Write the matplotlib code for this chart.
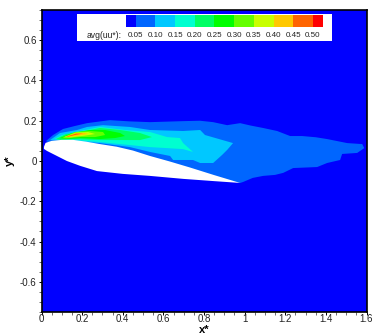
import matplotlib
matplotlib.use('Agg')
import matplotlib.pyplot as plt
from matplotlib.ticker import MultipleLocator

plt.rcParams['font.family'] = ['Liberation Sans', 'DejaVu Sans']

# legend levels
levels = [0.05, 0.10, 0.15, 0.20, 0.25, 0.30, 0.35, 0.40, 0.45, 0.50]
level_colors = ['#0000ff', '#0066ff', '#00c8ff', '#00ffd0', '#00ff64', '#00ff00',
                '#64ff00', '#c8ff00', '#ffc800', '#ff6400', '#ff0000']
x_ticks = [0, 0.2, 0.4, 0.6, 0.8, 1, 1.2, 1.4, 1.6]
x_labels = ['0', '0.2', '0.4', '0.6', '0.8', '1', '1.2', '1.4', '1.6']
y_ticks = [-0.6, -0.4, -0.2, 0, 0.2, 0.4, 0.6]
y_labels = ['-0.6', '-0.4', '-0.2', '0', '0.2', '0.4', '0.6']

# airfoil outline
foil_x = [0.012, 0.02, 0.05, 0.10, 0.155, 0.22, 0.288, 0.37, 0.45, 0.534, 0.63, 0.73, 0.85, 0.978,
          0.85, 0.70, 0.534, 0.40, 0.273, 0.19, 0.125, 0.076, 0.027, 0.012]
foil_y = [0.070, 0.090, 0.100, 0.105, 0.105, 0.096, 0.084, 0.071, 0.052, 0.025, -0.002, -0.032, -0.070, -0.109,
          -0.100, -0.089, -0.074, -0.064, -0.050, -0.024, 0.000, 0.025, 0.050, 0.060]

# contour outlines, outermost first
c05_x = [0.022, 0.057, 0.106, 0.165, 0.224, 0.337, 0.43, 0.534, 0.697, 0.78, 0.845, 0.914, 0.978, 1.03, 1.091,
         1.160, 1.224, 1.283, 1.35, 1.406, 1.505, 1.579, 1.589, 1.554, 1.480, 1.470, 1.406, 1.357,
         1.239, 1.190, 1.150, 1.091, 1.04, 0.993, 0.978, 0.5, 0.1]
c05_y = [0.099, 0.129, 0.159, 0.174, 0.188, 0.203, 0.197, 0.193, 0.198, 0.200, 0.193, 0.178, 0.188, 0.176, 0.164,
         0.149, 0.124, 0.124, 0.118, 0.109, 0.089, 0.084, 0.064, 0.040, 0.035, 0.005, -0.010, -0.030,
         -0.035, -0.059, -0.069, -0.074, -0.084, -0.104, -0.109, 0.0, 0.06]
c10_x = [0.042, 0.091, 0.175, 0.224, 0.303, 0.436, 0.534, 0.697, 0.781, 0.805, 0.943, 0.914,
         0.889, 0.845, 0.781, 0.746, 0.648, 0.633, 0.534, 0.436, 0.288, 0.140]
c10_y = [0.104, 0.139, 0.154, 0.169, 0.178, 0.169, 0.154, 0.149, 0.154, 0.129, 0.089, 0.055,
         0.030, -0.010, -0.010, 0.005, 0.005, 0.025, 0.045, 0.069, 0.089, 0.099]
c15_x = [0.062, 0.101, 0.190, 0.288, 0.411, 0.534, 0.618, 0.682, 0.697, 0.746, 0.697, 0.618,
         0.534, 0.436, 0.288, 0.165, 0.091]
c15_y = [0.109, 0.129, 0.149, 0.169, 0.154, 0.144, 0.119, 0.114, 0.089, 0.045, 0.059, 0.064,
         0.069, 0.079, 0.094, 0.104, 0.104]
c20_x = [0.071, 0.121, 0.214, 0.288, 0.387, 0.485, 0.544, 0.485, 0.387, 0.288, 0.165, 0.101]
c20_y = [0.109, 0.134, 0.149, 0.164, 0.154, 0.139, 0.119, 0.104, 0.104, 0.104, 0.109, 0.104]
c25_x = [0.091, 0.150, 0.239, 0.313, 0.387, 0.411, 0.362, 0.288, 0.190, 0.121]
c25_y = [0.114, 0.139, 0.154, 0.154, 0.139, 0.124, 0.114, 0.109, 0.114, 0.109]
c30_x = [0.101, 0.165, 0.239, 0.303, 0.313, 0.264, 0.190, 0.121]
c30_y = [0.114, 0.144, 0.149, 0.144, 0.129, 0.119, 0.119, 0.112]
c35_x = [0.111, 0.170, 0.229, 0.264, 0.214, 0.140]
c35_y = [0.119, 0.141, 0.144, 0.134, 0.126, 0.117]
c40_x = [0.116, 0.170, 0.214, 0.229, 0.180, 0.131]
c40_y = [0.119, 0.139, 0.139, 0.134, 0.126, 0.119]
c45_x = [0.121, 0.170, 0.204, 0.165, 0.131]
c45_y = [0.121, 0.136, 0.136, 0.129, 0.121]
contours = [(c05_x, c05_y), (c10_x, c10_y), (c15_x, c15_y), (c20_x, c20_y), (c25_x, c25_y),
            (c30_x, c30_y), (c35_x, c35_y), (c40_x, c40_y), (c45_x, c45_y)]

fig = plt.figure(figsize=(3.78, 3.36), dpi=100)
ax = fig.add_axes([41.5 / 378, 1 - 312 / 336, 325 / 378, 302 / 336])
ax.set_facecolor(level_colors[0])
for i, (cx, cy) in enumerate(contours):
    ax.fill(cx, cy, color=level_colors[i + 1], lw=0)
ax.fill(foil_x, foil_y, color='white', lw=0)

ax.set_xticks(x_ticks)
ax.set_xticklabels(x_labels)
ax.set_yticks(y_ticks)
ax.set_yticklabels(y_labels)
ax.xaxis.set_minor_locator(MultipleLocator(0.05))
ax.yaxis.set_minor_locator(MultipleLocator(0.05))
ax.set_xlim(0, 1.6)
ax.set_ylim(-0.75, 0.75)
ax.tick_params(which='major', length=2.5, width=0.7, labelsize=7, labelcolor='#222222')
ax.tick_params(which='minor', length=2.2, width=0.4)
ax.tick_params(axis='x', which='major', pad=-1)
ax.tick_params(axis='y', which='major', pad=1)
for s in ax.spines.values():
    s.set_linewidth(1.2)
ax.set_xlabel('x*', fontsize=8, fontweight='bold', va='center')
ax.set_ylabel('y*', fontsize=8, fontweight='bold', va='center')
ax.xaxis.set_label_coords(0.5, -0.06)
ax.yaxis.set_label_coords(-0.097, 0.5)

# legend box with the colour strip
leg = fig.add_axes([76.7 / 378, 1 - 40.7 / 336, 255 / 378, 26.7 / 336])
leg.set_xlim(-0.0997, 0.5475)
leg.set_ylim(0, 1)
leg.set_facecolor('white')
edges = [0.025] + levels + [0.525]
for i in range(len(level_colors)):
    leg.barh(0.74, edges[i + 1] - edges[i], height=0.47, left=edges[i], color=level_colors[i], lw=0)
leg.set_xticks([])
leg.set_yticks([])
for s in leg.spines.values():
    s.set_visible(False)
for v in levels:
    leg.text(v, 0.18, '%.2f' % v, ha='center', va='center', fontsize=5.8, color='#222222')
leg.text(0.0153, 0.18, 'avg(uu*):', ha='right', va='center', fontsize=6.2, color='#222222')

fig.savefig('out.png', dpi=100)
